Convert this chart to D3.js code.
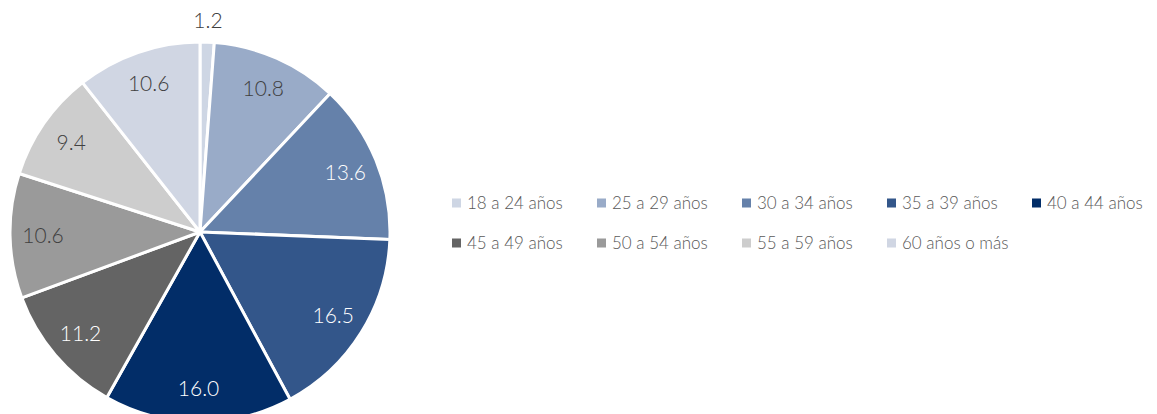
<!DOCTYPE html>
<html>
<head>
<meta charset="utf-8">
<script src="https://cdn.jsdelivr.net/npm/d3@7"></script>
<style>
  html, body { margin: 0; padding: 0; background: #fff; }
  svg { display: block; }
  text { font-family: Lato, "Open Sans", sans-serif; font-weight: 300; }
</style>
</head>
<body>
<svg id="chart" width="1157" height="414"></svg>
<script>
// Age groups and their share (%)
const categories = ["18 a 24 años", "25 a 29 años", "30 a 34 años", "35 a 39 años", "40 a 44 años",
                    "45 a 49 años", "50 a 54 años", "55 a 59 años", "60 años o más"];
const values = [1.2, 10.8, 13.6, 16.5, 16.0, 11.2, 10.6, 9.4, 10.6];
const colors = ["#ced6e4", "#99abc8", "#6581aa", "#33568a", "#022d68",
                "#646464", "#9a9a9a", "#cdcdcd", "#d0d6e3"];
const darkSlices = [false, false, true, true, true, true, false, false, false];

const svg = d3.select("#chart");
const cx = 200, cy = 232, r = 190;

const data = categories.map((c, i) => ({ cat: c, value: values[i], color: colors[i], dark: darkSlices[i] }));

const pie = d3.pie().value(d => d.value).sort(null);
const arc = d3.arc().innerRadius(0).outerRadius(r);
const labelArc = d3.arc().innerRadius(157).outerRadius(157);
const outerArc = d3.arc().innerRadius(212).outerRadius(212);

const g = svg.append("g").attr("transform", `translate(${cx},${cy})`);
const arcs = pie(data);

g.selectAll("path").data(arcs).join("path")
  .attr("d", arc)
  .attr("fill", d => d.data.color)
  .attr("stroke", "#fff")
  .attr("stroke-width", 3)
  .attr("stroke-linejoin", "round");

g.selectAll("text.val").data(arcs).join("text")
  .attr("class", "val")
  .attr("transform", d => {
    const p = (d.data.value < 3 ? outerArc : labelArc).centroid(d);
    return `translate(${p[0]},${p[1]})`;
  })
  .attr("text-anchor", "middle")
  .attr("dy", "0.35em")
  .attr("font-size", 21)
  .attr("fill", d => d.data.dark && d.data.value >= 3 ? "#ffffff" : "#404040")
  .text(d => d.data.value.toFixed(1));

// Legend: two rows
const perRow = 5, colW = 145, rowH = 40;
const lg = svg.append("g").attr("transform", "translate(452,203)");
const items = lg.selectAll("g").data(data).join("g")
  .attr("transform", (d, i) => `translate(${(i % perRow) * colW},${Math.floor(i / perRow) * rowH})`);
items.append("rect")
  .attr("x", 0).attr("y", -4.5).attr("width", 9).attr("height", 9)
  .attr("fill", d => d.color);
items.append("text")
  .attr("x", 15).attr("dy", "0.35em")
  .attr("font-size", 17)
  .attr("fill", "#595959")
  .text(d => d.cat);
</script>
</body>
</html>
